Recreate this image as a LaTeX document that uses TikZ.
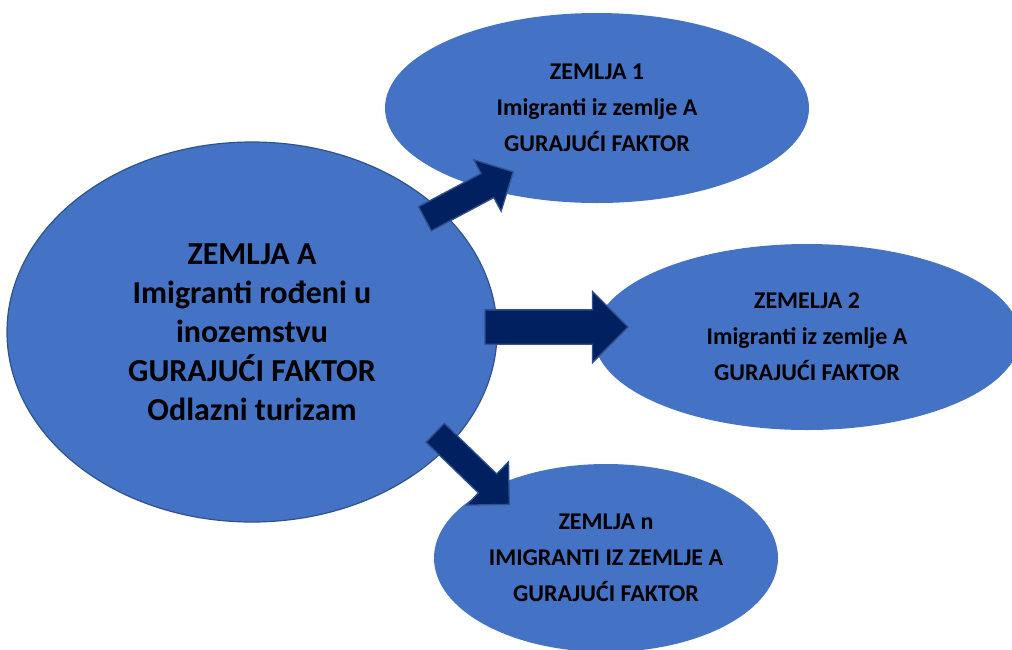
\documentclass[tikz,border=0pt]{standalone}
\usepackage{fontspec}
\setmainfont{Carlito}
\usetikzlibrary{shapes.geometric,shapes.arrows,positioning}

\definecolor{zemljaplava}{HTML}{4472C4}
\definecolor{rubplava}{HTML}{2F528F}
\definecolor{strelicaplava}{HTML}{002060}

\tikzset{
  drzava/.style={ellipse, fill=zemljaplava, inner sep=0pt, align=center,
    font=\bfseries\fontsize{24}{36}\selectfont},
  glavna/.style={drzava, draw=rubplava, line width=1.2pt,
    font=\bfseries\fontsize{32}{39}\selectfont},
  blokstrelica/.style={single arrow, fill=strelicaplava, draw=rubplava,
    line width=1.3pt, inner xsep=0pt, font=\fontsize{1}{1}\selectfont}
}

\begin{document}
\begin{tikzpicture}[x=1pt,y=-1pt]
  \useasboundingbox (0,0) rectangle (1012,649);
  \clip (0,0) rectangle (1012,649);

  % zemlje
  \node[glavna, minimum width=490pt, minimum height=380pt] (zemljaA) at (252,332)
    {ZEMLJA A\\Imigranti rođeni u\\inozemstvu\\GURAJUĆI FAKTOR\\Odlazni turizam};
  \node[drzava, minimum width=424pt, minimum height=190pt] (zemlja1) at (597,108)
    {ZEMLJA 1\\Imigranti iz zemlje A\\GURAJUĆI FAKTOR};
  \node[drzava, minimum width=426pt, minimum height=186pt] (zemlja2) at (807,337)
    {ZEMELJA 2\\Imigranti iz zemlje A\\GURAJUĆI FAKTOR};
  \node[drzava, minimum width=344pt, minimum height=188pt] (zemljaN) at (606,558)
    {ZEMLJA n\\IMIGRANTI IZ ZEMLJE A\\GURAJUĆI FAKTOR};

  % strelice
  \node[blokstrelica, minimum height=100pt, inner ysep=13pt,
    single arrow head extend=15.5pt, rotate=28] (strelica1) at (463,198.5) {};
  \node[blokstrelica, minimum height=143pt, inner ysep=16.5pt,
    single arrow head extend=18.5pt] (strelica2) at (548,327) {};
  \node[blokstrelica, minimum height=103pt, inner ysep=12.5pt,
    single arrow head extend=17pt, rotate=-44] (strelicaN) at (467.5,464) {};
\end{tikzpicture}
\end{document}
